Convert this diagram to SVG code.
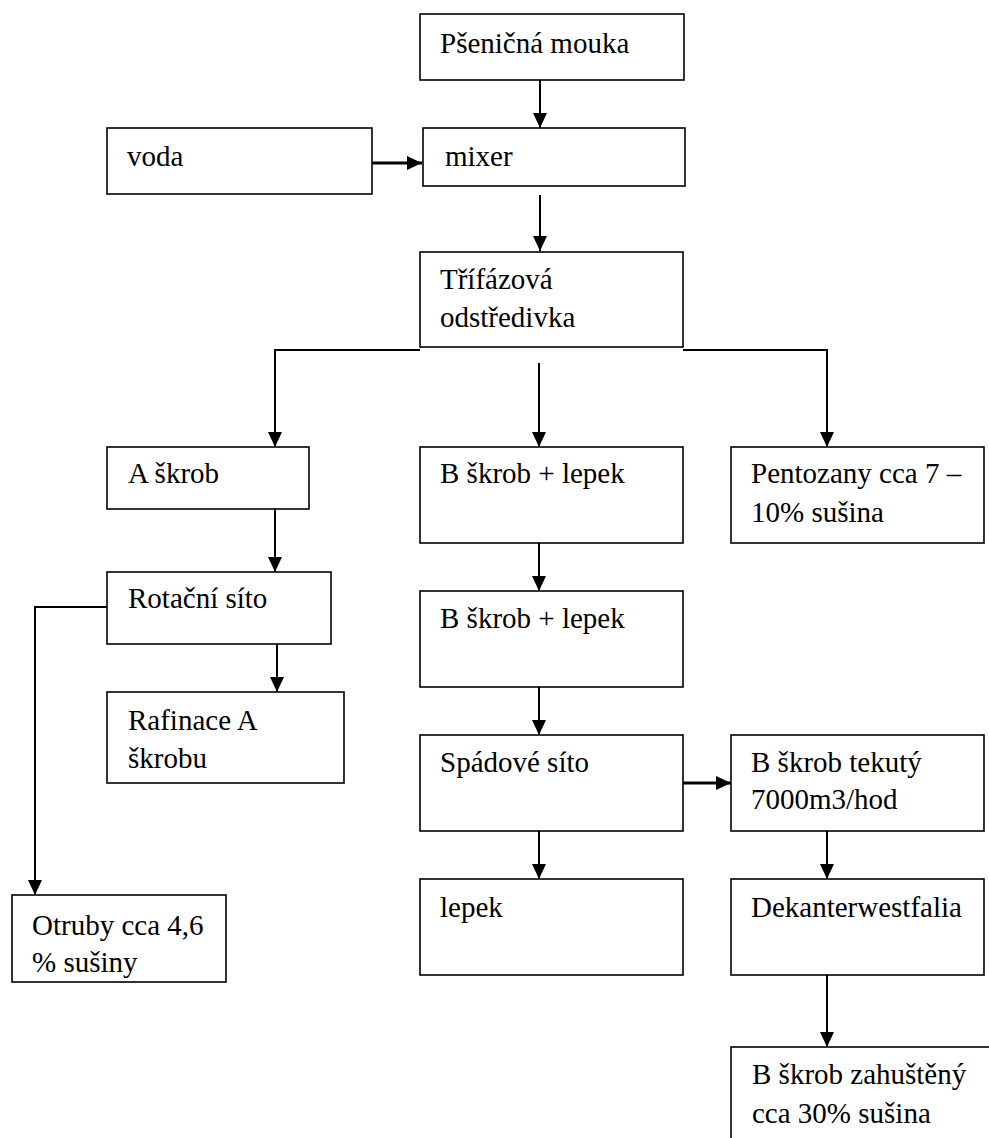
<svg xmlns="http://www.w3.org/2000/svg" width="989" height="1138" viewBox="0 0 989 1138">
<defs>
<style>
.box{fill:#fff;stroke:#000;stroke-width:1.6}
text{font-family:'Liberation Serif',Tinos,'Times New Roman','Nimbus Roman','FreeSerif','Noto Serif','DejaVu Serif',serif;font-size:29px;fill:#000}
.c{fill:none;stroke:#000;stroke-width:2}
.ct{fill:none;stroke:#000;stroke-width:3}
</style>
<marker id="ah" markerUnits="userSpaceOnUse" markerWidth="16" markerHeight="14" refX="15" refY="7" orient="auto" viewBox="0 0 16 14">
<path d="M0,0 L15,7 L0,14 Z" fill="#000"/>
</marker>
</defs>
<rect width="989" height="1138" fill="#fff"/>
<g id="connectors">
<line class="c" x1="540" y1="80" x2="540" y2="128" marker-end="url(#ah)"/>
<line class="ct" x1="372" y1="163" x2="422" y2="163" marker-end="url(#ah)"/>
<line class="c" x1="540" y1="195" x2="540" y2="251" marker-end="url(#ah)"/>
<polyline class="c" points="420,350 275,350 275,447" marker-end="url(#ah)"/>
<polyline class="c" points="683,350 827,350 827,447" marker-end="url(#ah)"/>
<line class="c" x1="539" y1="363" x2="539" y2="447" marker-end="url(#ah)"/>
<line class="c" x1="275" y1="509" x2="275" y2="572" marker-end="url(#ah)"/>
<polyline class="c" points="107,607 35,607 35,895" marker-end="url(#ah)"/>
<line class="c" x1="277" y1="644" x2="277" y2="692" marker-end="url(#ah)"/>
<line class="c" x1="539" y1="543" x2="539" y2="591" marker-end="url(#ah)"/>
<line class="c" x1="539" y1="687" x2="539" y2="735" marker-end="url(#ah)"/>
<line class="ct" x1="683" y1="783" x2="731" y2="783" marker-end="url(#ah)"/>
<line class="c" x1="539" y1="831" x2="539" y2="879" marker-end="url(#ah)"/>
<line class="c" x1="827" y1="831" x2="827" y2="879" marker-end="url(#ah)"/>
<line class="c" x1="827" y1="975" x2="827" y2="1047" marker-end="url(#ah)"/>
</g>
<g id="n-psenicna"><rect class="box" x="420" y="14" width="264" height="66"/><text x="440" y="53">Pšeničná mouka</text></g>
<g id="n-voda"><rect class="box" x="107" y="128" width="265" height="66"/><text x="127" y="166">voda</text></g>
<g id="n-mixer"><rect class="box" x="423" y="128" width="262" height="58"/><text x="445" y="166">mixer</text></g>
<g id="n-trifazova"><rect class="box" x="420" y="252" width="263" height="95"/><text x="440" y="289">Třífázová</text><text x="440" y="327">odstředivka</text></g>
<g id="n-askrob"><rect class="box" x="107" y="447" width="202" height="62"/><text x="128" y="483">A škrob</text></g>
<g id="n-bskrob1"><rect class="box" x="420" y="447" width="263" height="96"/><text x="440" y="483">B škrob + lepek</text></g>
<g id="n-pentozany"><rect class="box" x="731" y="447" width="253" height="96"/><text x="751" y="483">Pentozany cca 7 –</text><text x="751" y="522">10% sušina</text></g>
<g id="n-rotacni"><rect class="box" x="107" y="572" width="224" height="72"/><text x="128" y="608">Rotační síto</text></g>
<g id="n-bskrob2"><rect class="box" x="420" y="591" width="263" height="96"/><text x="440" y="628">B škrob + lepek</text></g>
<g id="n-rafinace"><rect class="box" x="107" y="692" width="237" height="91"/><text x="128" y="730">Rafinace A</text><text x="128" y="768">škrobu</text></g>
<g id="n-spadove"><rect class="box" x="420" y="735" width="263" height="96"/><text x="440" y="772">Spádové síto</text></g>
<g id="n-tekuty"><rect class="box" x="731" y="735" width="253" height="96"/><text x="751" y="772">B škrob tekutý</text><text x="751" y="809">7000m3/hod</text></g>
<g id="n-lepek"><rect class="box" x="420" y="879" width="263" height="96"/><text x="440" y="917">lepek</text></g>
<g id="n-dekanter"><rect class="box" x="731" y="879" width="253" height="96"/><text x="751" y="917">Dekanterwestfalia</text></g>
<g id="n-otruby"><rect class="box" x="12" y="895" width="214" height="87"/><text x="32" y="935">Otruby cca 4,6</text><text x="32" y="972">% sušiny</text></g>
<g id="n-zahusteny"><rect class="box" x="731" y="1047" width="280" height="120"/><text x="752" y="1084">B škrob zahuštěný</text><text x="752" y="1123">cca 30% sušina</text></g>
</svg>
